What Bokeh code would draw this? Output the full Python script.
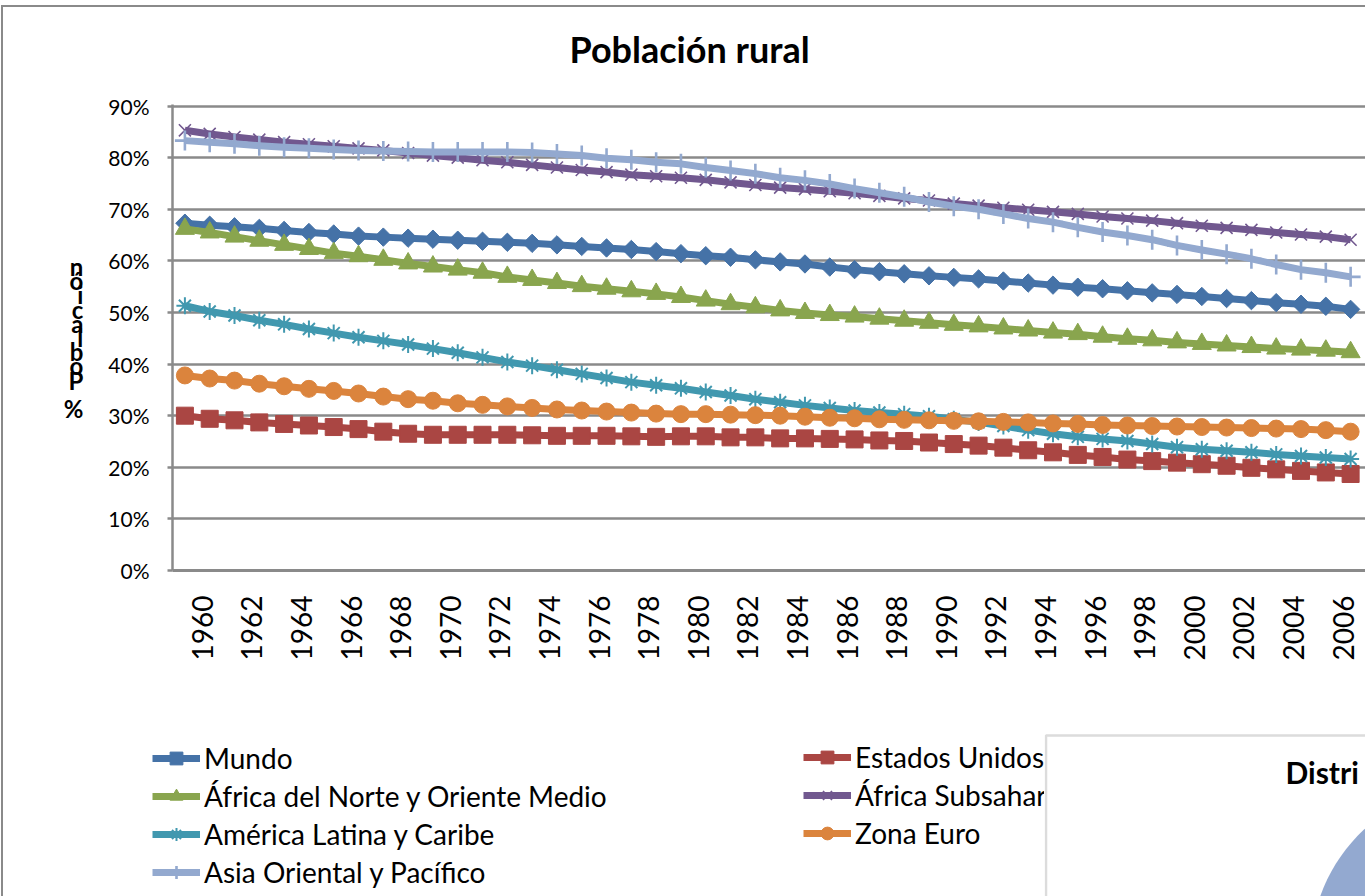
import numpy as np
from bokeh.plotting import figure
from bokeh.layouts import column, row
from bokeh.models import (FixedTicker, PrintfTickFormatter, Legend, LegendItem,
                          Label, BoxAnnotation, PolyAnnotation, Range1d, Title)
from bokeh.embed import file_html
from bokeh.resources import INLINE

# ---------------- data ----------------
years = list(range(1960, 2008))
label_years = list(range(1960, 2007, 2))
y_ticks = list(range(0, 91, 10))

mundo = [67.3, 66.9, 66.6, 66.3, 65.9, 65.5, 65.2, 64.8, 64.6, 64.4,
         64.2, 64.0, 63.8, 63.6, 63.4, 63.1, 62.8, 62.5, 62.2, 61.8,
         61.4, 61.0, 60.7, 60.2, 59.8, 59.4, 58.8, 58.3, 57.9, 57.5,
         57.1, 56.8, 56.5, 56.1, 55.7, 55.3, 54.9, 54.6, 54.2, 53.8,
         53.5, 53.1, 52.7, 52.3, 51.9, 51.6, 51.2, 50.6]
estados_unidos = [30.0, 29.4, 29.1, 28.7, 28.4, 28.1, 27.8, 27.4, 26.9, 26.5,
                  26.3, 26.3, 26.3, 26.3, 26.2, 26.1, 26.1, 26.1, 26.0, 25.9,
                  26.0, 26.0, 25.8, 25.8, 25.6, 25.6, 25.5, 25.4, 25.2, 25.1,
                  24.8, 24.5, 24.2, 23.8, 23.3, 22.9, 22.4, 22.0, 21.5, 21.2,
                  20.9, 20.6, 20.3, 19.9, 19.6, 19.3, 19.0, 18.7]
africa_norte = [66.2, 65.5, 64.7, 63.9, 63.1, 62.3, 61.5, 60.9, 60.2, 59.5,
                58.9, 58.3, 57.7, 56.9, 56.3, 55.7, 55.1, 54.6, 54.1, 53.6,
                53.0, 52.3, 51.6, 51.0, 50.4, 49.9, 49.5, 49.2, 48.8, 48.4,
                48.0, 47.6, 47.3, 46.9, 46.5, 46.1, 45.8, 45.3, 44.9, 44.6,
                44.2, 43.9, 43.6, 43.3, 43.0, 42.8, 42.6, 42.3]
africa_sub = [85.3, 84.6, 84.0, 83.5, 83.0, 82.6, 82.2, 81.8, 81.4, 80.9,
              80.4, 80.0, 79.5, 79.1, 78.6, 78.1, 77.6, 77.2, 76.7, 76.4,
              76.1, 75.7, 75.2, 74.7, 74.2, 73.9, 73.5, 73.1, 72.6, 72.1,
              71.7, 71.1, 70.7, 70.3, 69.9, 69.5, 69.1, 68.6, 68.2, 67.8,
              67.3, 66.8, 66.4, 66.0, 65.5, 65.1, 64.7, 64.1]
america_latina = [51.3, 50.2, 49.4, 48.5, 47.7, 46.8, 46.0, 45.2, 44.5, 43.8,
                  43.0, 42.2, 41.3, 40.4, 39.7, 38.9, 38.1, 37.3, 36.5, 35.9,
                  35.3, 34.6, 33.9, 33.2, 32.6, 32.0, 31.5, 31.0, 30.6, 30.3,
                  29.9, 29.3, 28.7, 28.0, 27.2, 26.5, 25.9, 25.5, 25.1, 24.5,
                  23.9, 23.5, 23.2, 22.9, 22.5, 22.2, 21.9, 21.6]
zona_euro = [37.8, 37.2, 36.8, 36.2, 35.7, 35.2, 34.8, 34.3, 33.7, 33.2,
             32.9, 32.4, 32.1, 31.8, 31.5, 31.2, 31.0, 30.8, 30.6, 30.4,
             30.3, 30.3, 30.2, 30.1, 30.0, 29.8, 29.6, 29.5, 29.3, 29.2,
             29.1, 29.0, 28.9, 28.8, 28.7, 28.5, 28.4, 28.2, 28.1, 28.0,
             27.9, 27.8, 27.7, 27.6, 27.5, 27.4, 27.2, 26.9]
asia_oriental = [83.3, 83.0, 82.7, 82.3, 82.0, 81.8, 81.6, 81.4, 81.3, 81.2,
                 81.1, 81.1, 81.1, 81.1, 81.0, 80.7, 80.4, 79.9, 79.6, 79.1,
                 78.8, 78.1, 77.5, 76.9, 76.1, 75.6, 74.9, 74.0, 73.2, 72.4,
                 71.4, 70.6, 70.0, 69.1, 68.2, 67.5, 66.5, 65.6, 64.9, 64.1,
                 63.0, 62.1, 61.3, 60.4, 59.3, 58.3, 57.7, 56.9]

series_names = ["Mundo", "Estados Unidos", "África del Norte y Oriente Medio",
                "África Subsahariana", "América Latina y Caribe", "Zona Euro",
                "Asia Oriental y Pacífico"]
series_values = [mundo, estados_unidos, africa_norte, africa_sub,
                 america_latina, zona_euro, asia_oriental]

title_text = "Población rural"
y_title_chars = ["n", "ó", "i", "c", "a", "l", "b", "o", "P", "", "%"]
second_chart_title = "Distri"

# ---------------- style ----------------
colors = ["#4572A7", "#AA4643", "#89A54E", "#71588F", "#4198AF", "#DB843D", "#93A9CF"]
markers = ["square", "square", "triangle", "x", "asterisk", "circle", "cross"]
marker_sizes = [13, 17, 19, 17, 17, 17, 20]
marker_angles = [np.pi / 4, 0, 0, 0, 0, 0, 0]
marker_lw = [1, 1, 1, 1.6, 2, 1, 2.6]
GRAY = "#8a8a8a"
FONT = "Lato"

W = 1362
H1, H2 = 695, 194
W2 = 1041           # legend strip, up to the neighbouring chart
W3 = W - W2         # visible part of the neighbouring chart

p = figure(width=W, height=H1, output_backend="svg", toolbar_location=None, tools="",
           x_range=Range1d(1959.5, 2007.6), y_range=Range1d(0, 90.3),
           min_border_left=169, min_border_right=0, min_border_top=97,
           min_border_bottom=132, outline_line_color=None,
           background_fill_color="white", border_fill_color="white")
p.frame_align = False

# title (a blank spacer title sits between it and the plot area)
p.add_layout(Title(text=" ", text_font_size="14px", standoff=0), "above")
p.add_layout(Title(text=title_text, align="left", offset=397, standoff=32,
                   text_font=FONT, text_font_style="bold", text_font_size="36px",
                   text_color="#000000"), "above")

# y axis
p.yaxis.ticker = FixedTicker(ticks=y_ticks)
p.yaxis.formatter = PrintfTickFormatter(format="%d%%")
p.yaxis.major_label_text_font = FONT
p.yaxis.major_label_text_font_size = "21px"
p.yaxis.major_label_text_color = "#000000"
p.yaxis.axis_line_color = GRAY
p.yaxis.axis_line_width = 2.5
p.yaxis.major_tick_out = 5
p.yaxis.major_tick_in = 0
p.yaxis.major_tick_line_color = GRAY
p.yaxis.major_tick_line_width = 2.5
p.yaxis.minor_tick_line_color = None
p.yaxis.major_label_standoff = 18
p.yaxis.axis_label = "\n".join(y_title_chars)
p.yaxis.axis_label_orientation = "horizontal"
p.yaxis.axis_label_text_font = FONT
p.yaxis.axis_label_text_font_style = "bold"
p.yaxis.axis_label_text_font_size = "24px"
p.yaxis.axis_label_text_line_height = 0.49
p.yaxis.axis_label_text_color = "#000000"
p.yaxis.axis_label_standoff = 22

# x axis (labels every two years, placed like the original)
shift = 0.7
p.xaxis.ticker = FixedTicker(ticks=[y + shift for y in label_years])
p.xaxis.major_label_overrides = {y + shift: str(y) for y in label_years}
p.xaxis.major_label_orientation = np.pi / 2
p.xaxis.major_label_text_font = FONT
p.xaxis.major_label_text_font_size = "28px"
p.xaxis.major_label_text_color = "#000000"
p.xaxis.axis_line_color = GRAY
p.xaxis.axis_line_width = 3
p.xaxis.major_tick_out = 0
p.xaxis.major_tick_in = 0
p.xaxis.minor_tick_line_color = None
p.xaxis.major_label_standoff = 25

p.xgrid.visible = False
p.ygrid.ticker = FixedTicker(ticks=y_ticks)
p.ygrid.grid_line_color = GRAY
p.ygrid.grid_line_width = 2.5

# ---------- lower strip: legend ----------
def strip(width):
    f = figure(width=width, height=H2, output_backend="svg", toolbar_location=None,
               tools="", x_range=Range1d(0, width), y_range=Range1d(H2, 0),
               min_border_left=0, min_border_right=0, min_border_top=0,
               min_border_bottom=0, outline_line_color=None,
               background_fill_color="white", border_fill_color="white")
    f.frame_align = False
    f.axis.visible = False
    f.grid.visible = False
    return f

p2 = strip(W2)

items = {}
for name, vals, c, m, s, a, lw in zip(series_names, series_values, colors, markers,
                                      marker_sizes, marker_angles, marker_lw):
    p.line(years, vals, line_color=c, line_width=7, line_join="round")
    p.scatter(years, vals, marker=m, size=s, angle=a, fill_color=c,
              line_color=c, line_width=lw)
    # legend swatches (a single point kept outside the visible range)
    l2 = p2.line([-500, -400], [-500, -500], line_color=c, line_width=7)
    m2 = p2.scatter([-500], [-500], marker=m, size=s, angle=a, fill_color=c,
                    line_color=c, line_width=lw)
    items[name] = LegendItem(label=name, renderers=[l2, m2])

legend_common = dict(orientation="vertical", glyph_width=48, glyph_height=32,
                     label_height=32, label_standoff=4, spacing=4, padding=0,
                     margin=0, border_line_color=None, background_fill_alpha=0,
                     label_text_font=FONT, label_text_font_size="28px",
                     label_text_color="#000000")
leg1 = Legend(items=[items[n] for n in series_names[0::2]], location=(149, 7),
              **legend_common)
leg2 = Legend(items=[items[n] for n in series_names[1::2]], location=(800, 46),
              **legend_common)
p2.add_layout(leg1)
p2.add_layout(leg2)

# ---------- neighbouring chart, cut off by the picture edge ----------
p3 = strip(W3)
p3.add_layout(BoxAnnotation(left=1.5, right=W3 + 40, top=33, bottom=H2 + 40,
                            fill_color="white", fill_alpha=1,
                            line_color=GRAY, line_width=2.5))
theta = np.linspace(0, 2 * np.pi, 120)
p3.add_layout(PolyAnnotation(xs=list(434 + 168 * np.cos(theta)),
                             ys=list(250 + 168 * np.sin(theta)),
                             fill_color="#93A9D0", fill_alpha=1, line_color=None))
p3.add_layout(Label(x=241, y=69, text=second_chart_title, text_font=FONT,
                    text_font_style="bold", text_font_size="30px",
                    text_color="#000000", text_baseline="middle"))

layout = column(p, row(p2, p3),
                styles={"margin-top": "5px", "margin-left": "1px",
                        "border-top": "2px solid #8a8a8a",
                        "border-left": "2px solid #8a8a8a"})

out = file_html(layout, INLINE)
open("out.html", "w").write(out)
